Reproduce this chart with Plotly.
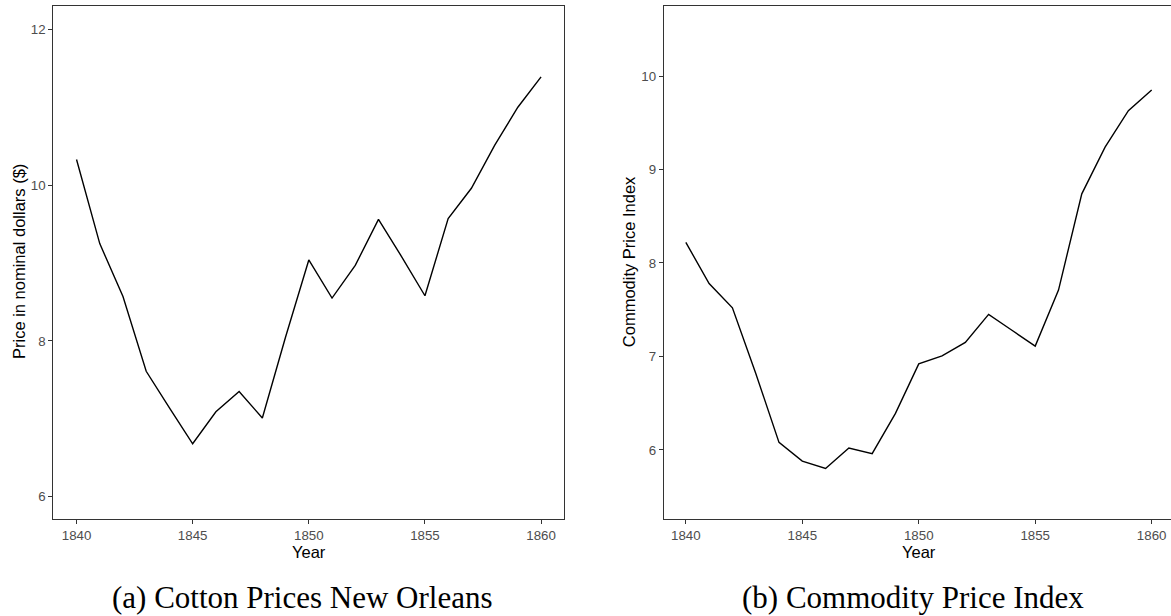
import plotly.graph_objects as go

years = list(range(1840, 1861))
cotton_price = [10.33, 9.25, 8.57, 7.61, 7.14, 6.68, 7.09, 7.35, 7.01, 8.05,
                9.04, 8.55, 8.97, 9.56, 9.08, 8.58, 9.57, 9.96, 10.51, 11.00, 11.39]
commodity_index = [8.22, 7.78, 7.52, 6.82, 6.08, 5.88, 5.80, 6.02, 5.96, 6.39,
                   6.92, 7.005, 7.15, 7.45, 7.28, 7.11, 7.71, 8.74, 9.24, 9.63, 9.85]
x_ticks = [1840, 1845, 1850, 1855, 1860]
left_y_ticks = [6, 8, 10, 12]
right_y_ticks = [6, 7, 8, 9, 10]
x_title = "Year"
left_y_title = "Price in nominal dollars ($)"
right_y_title = "Commodity Price Index"
captions = ["(a) Cotton Prices New Orleans", "(b) Commodity Price Index"]

W, H = 1171, 616
sans = "Liberation Sans, Arial, sans-serif"
serif = "Liberation Serif, Times New Roman, serif"

fig = go.Figure()
fig.add_trace(go.Scatter(x=years, y=cotton_price, mode="lines",
                         line=dict(color="black", width=1.4),
                         xaxis="x", yaxis="y", showlegend=False, hoverinfo="skip"))
fig.add_trace(go.Scatter(x=years, y=commodity_index, mode="lines",
                         line=dict(color="black", width=1.4),
                         xaxis="x2", yaxis="y2", showlegend=False, hoverinfo="skip"))

ydom = [(616 - 519) / H, (616 - 6) / H]
axis_common = dict(showgrid=False, zeroline=False, showline=True,
                   linecolor="#333333", linewidth=1, ticks="outside",
                   ticklen=4, tickwidth=1, tickcolor="#333333",
                   tickfont=dict(family=sans, size=13.3, color="#4d4d4d"))

fig.update_layout(
    width=W, height=H, margin=dict(l=0, r=0, t=0, b=0),
    paper_bgcolor="white", plot_bgcolor="white",
    xaxis=dict(domain=[53.3 / W, 564.3 / W], range=[1839, 1861],
               tickvals=x_ticks, mirror=True, anchor="y", **axis_common),
    yaxis=dict(domain=ydom, range=[5.714, 12.30], tickvals=left_y_ticks,
               mirror=True, anchor="x", **axis_common),
    xaxis2=dict(domain=[663.7 / W, 1.0], range=[1839.05, 1860.83],
                tickvals=x_ticks, mirror=True, anchor="y2", **axis_common),
    yaxis2=dict(domain=ydom, range=[5.26, 10.75], tickvals=right_y_ticks,
                mirror=False, anchor="x2", **axis_common),
)

ann = []
for cx in [(53.3 + 564.3) / 2, (663.7 + 1175) / 2]:
    ann.append(dict(x=cx / W, y=1 - 552 / H, xref="paper", yref="paper",
                    text=x_title, showarrow=False, xanchor="center", yanchor="middle",
                    font=dict(family=sans, size=16.5, color="black")))
ann.append(dict(x=18.3 / W, y=1 - 261.7 / H, xref="paper", yref="paper",
                text=left_y_title, showarrow=False, textangle=-90,
                xanchor="center", yanchor="middle",
                font=dict(family=sans, size=16.5, color="black")))
ann.append(dict(x=628.5 / W, y=1 - 261.7 / H, xref="paper", yref="paper",
                text=right_y_title, showarrow=False, textangle=-90,
                xanchor="center", yanchor="middle",
                font=dict(family=sans, size=16.5, color="black")))
for cx, txt in zip([302.7, 912.5], captions):
    ann.append(dict(x=cx / W, y=1 - 597 / H, xref="paper", yref="paper",
                    text=txt, showarrow=False, xanchor="center", yanchor="middle",
                    font=dict(family=serif, size=31, color="black")))
fig.update_layout(annotations=ann)

fig.write_html("out.html")
